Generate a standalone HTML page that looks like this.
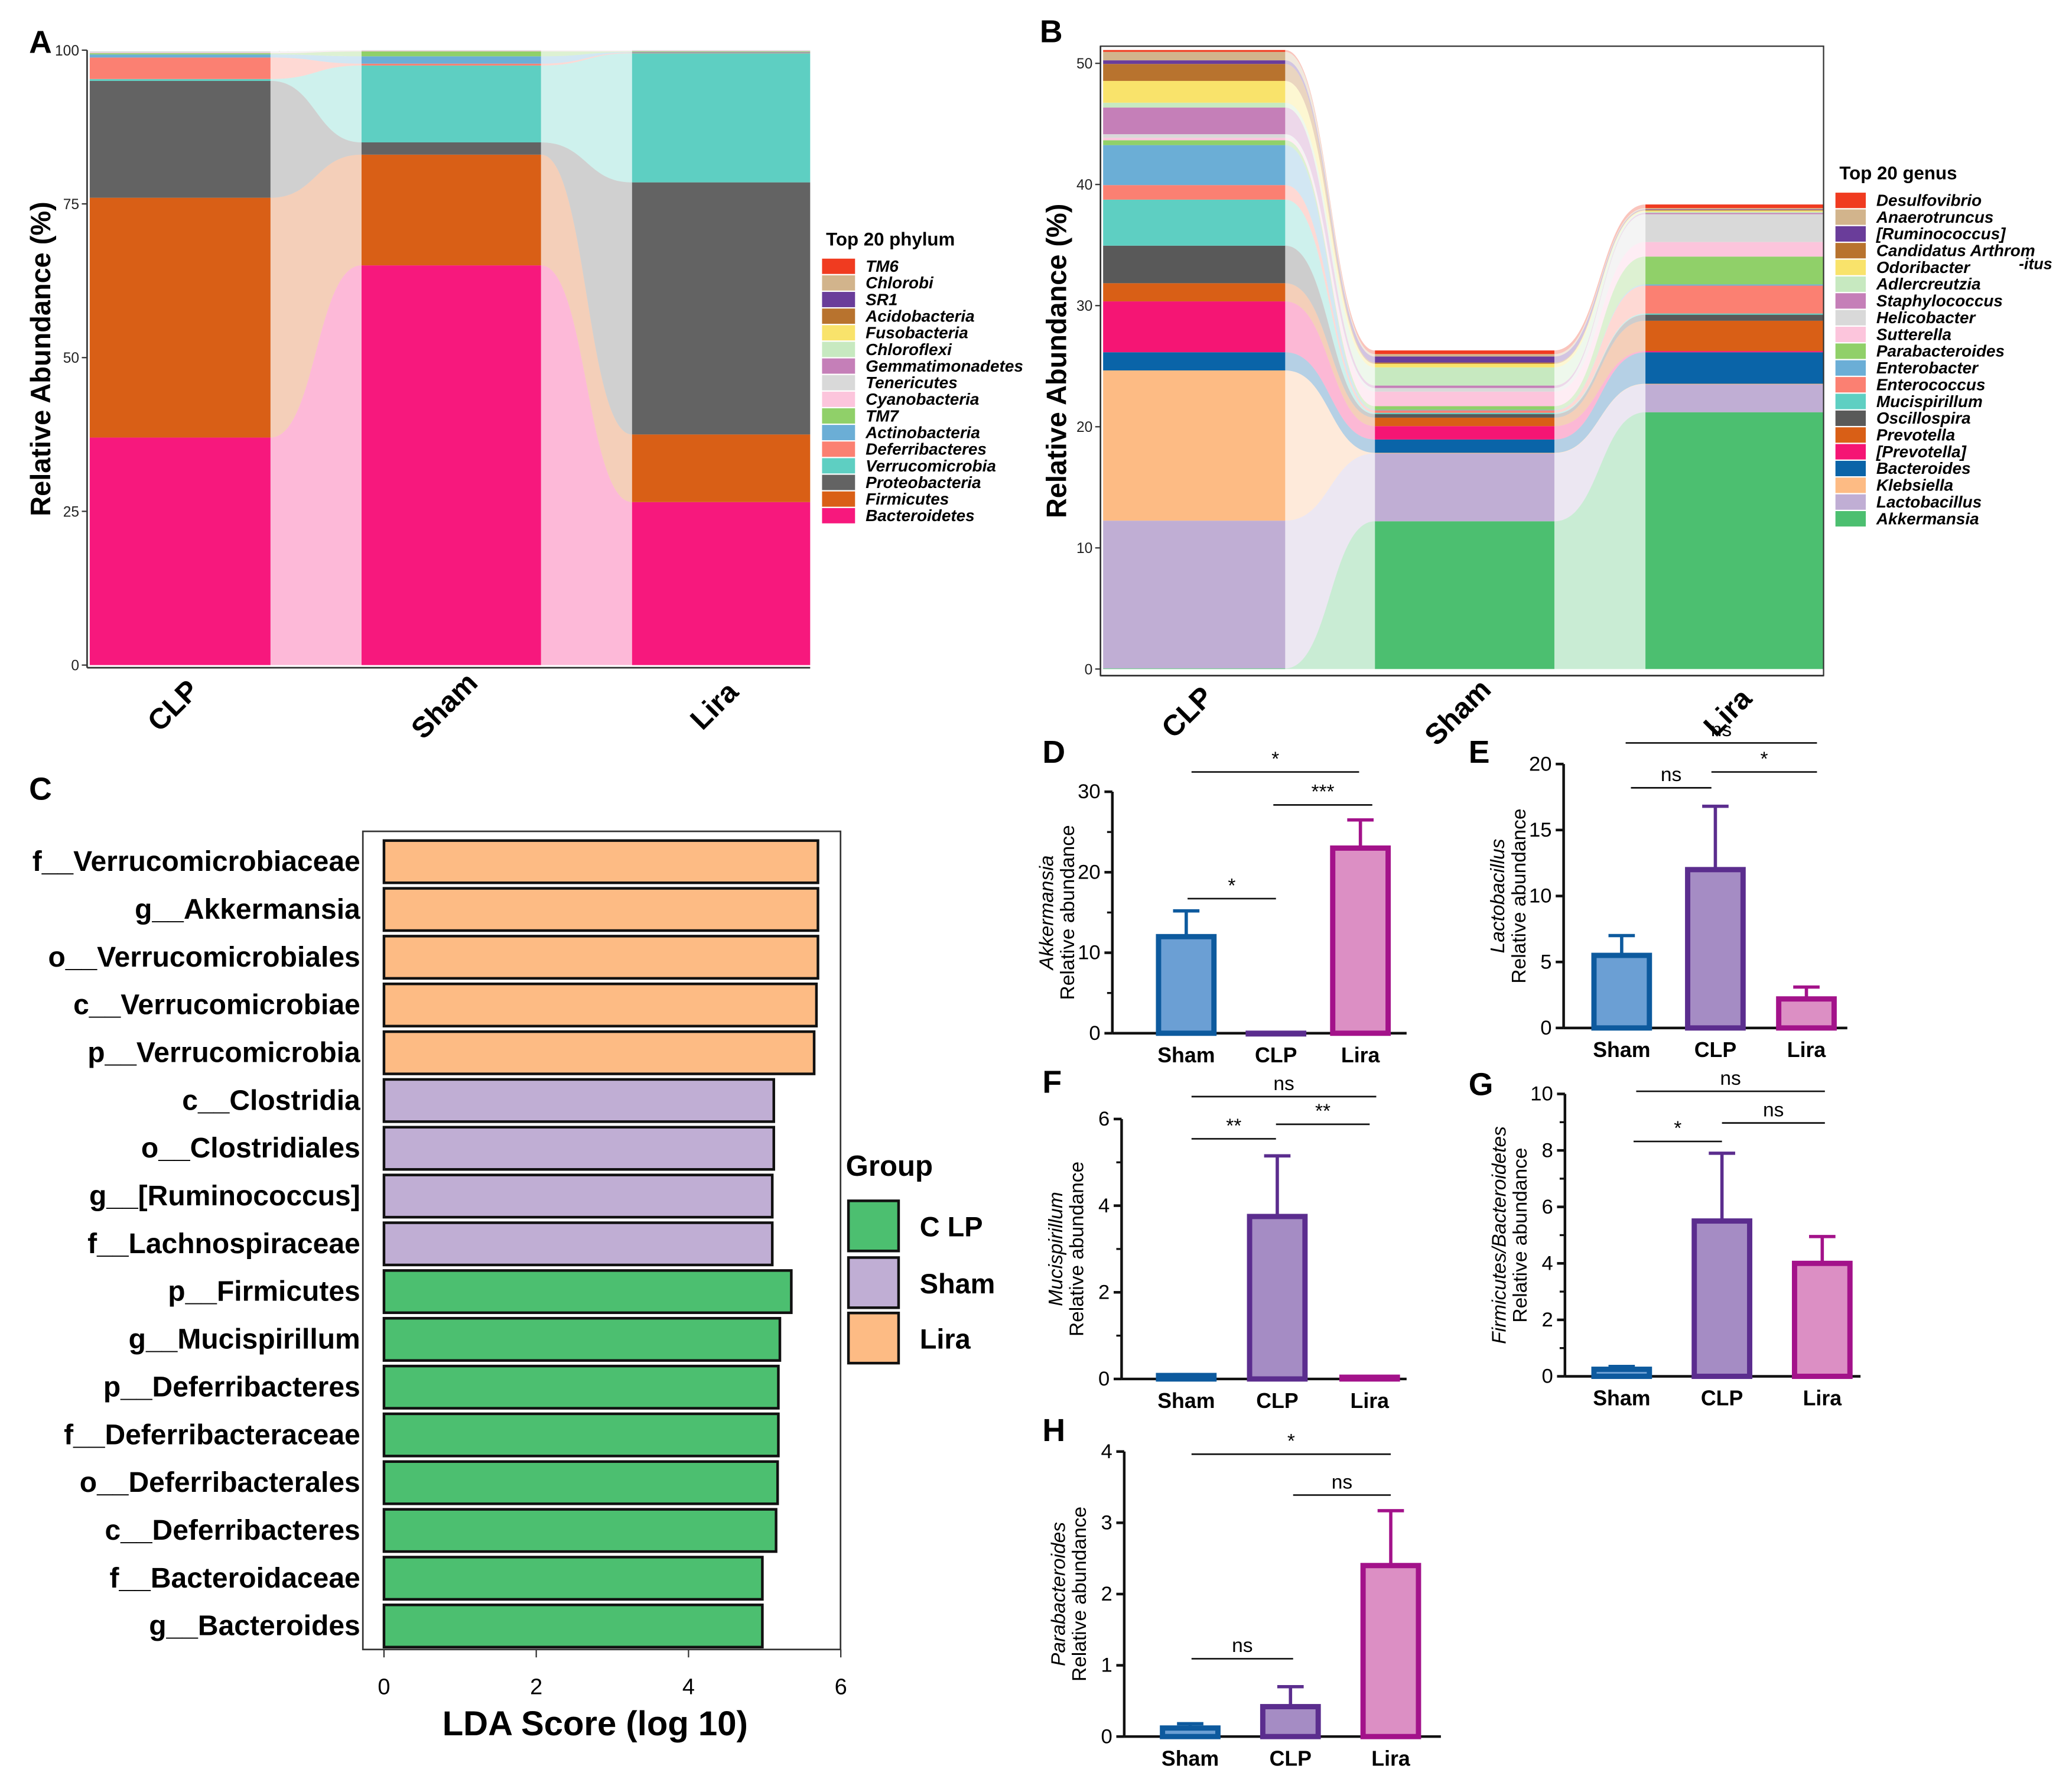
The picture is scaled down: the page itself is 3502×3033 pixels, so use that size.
<!DOCTYPE html>
<html><head><meta charset="utf-8">
<style>
html,body{margin:0;padding:0;background:#fff;}
svg{display:block;font-family:"Liberation Sans",Arial,sans-serif;}
</style></head>
<body>
<svg id="fig" width="3502" height="3033" viewBox="0 0 1568 1358" xmlns="http://www.w3.org/2000/svg">
<rect width="1568" height="1358" fill="#fff"/>
</svg>
<script>
// ---------- DATA ----------
const phylumNames=["Bacteroidetes","Firmicutes","Proteobacteria","Verrucomicrobia","Deferribacteres","Actinobacteria","TM7","Cyanobacteria","Tenericutes","Gemmatimonadetes","Chloroflexi","Fusobacteria","Acidobacteria","SR1","Chlorobi","TM6"];
const phylumColors=["#f7187d","#d95f16","#636363","#5ecfc2","#fb8072","#6baed6","#90d069","#fcc5dc","#d9d9d9","#c57fb8","#c7e9c0","#f9e36b","#b8732e","#6a3d9a","#d2b48c","#f03b20"];
const groupsAB=["CLP","Sham","Lira"];
const phylumCLP=[37,39,19,0.3,3.5,0.5,0.2,0.1,0.2,0,0,0,0,0,0,0];
const phylumSham=[65,18,2,12.5,0.3,1.2,0.8,0.1,0.1,0,0,0,0,0,0,0];
const phylumLira=[26.5,11,41,21,0.1,0.1,0.1,0.1,0.1,0,0,0,0,0,0,0];

const genusNames=["Akkermansia","Lactobacillus","Klebsiella","Bacteroides","[Prevotella]","Prevotella","Oscillospira","Mucispirillum","Enterococcus","Enterobacter","Parabacteroides","Sutterella","Helicobacter","Staphylococcus","Adlercreutzia","Odoribacter","Candidatus Arthrom","[Ruminococcus]","Anaerotruncus","Desulfovibrio"];
const genusColors=["#4cbf70","#c0aed4","#fdbb84","#0a64a8","#f51574","#d95f16","#595959","#5ecfc2","#fb8072","#6baed6","#90d069","#fcc5dc","#d9d9d9","#c57fb8","#c7e9c0","#f9e36b","#b8732e","#6a3d9a","#d2b48c","#f03b20"];
const genusCLP=[0.05,12.2,12.4,1.5,4.2,1.5,3.1,3.8,1.2,3.3,0.4,0.2,0.3,2.2,0.4,1.8,1.4,0.3,0.7,0.15];
const genusSham=[12.2,5.6,0.05,1.1,1.1,0.7,0.3,0.1,0.2,0.05,0.3,1.2,0.3,0.2,1.5,0.3,0.1,0.5,0.2,0.3];
const genusLira=[21.2,2.3,0.05,2.6,0.1,2.5,0.5,0.1,2.3,0.1,2.3,1.2,2.3,0.1,0.1,0.1,0.05,0.05,0.1,0.3];

const ldaLabels=["f__Verrucomicrobiaceae","g__Akkermansia","o__Verrucomicrobiales","c__Verrucomicrobiae","p__Verrucomicrobia","c__Clostridia","o__Clostridiales","g__[Ruminococcus]","f__Lachnospiraceae","p__Firmicutes","g__Mucispirillum","p__Deferribacteres","f__Deferribacteraceae","o__Deferribacterales","c__Deferribacteres","f__Bacteroidaceae","g__Bacteroides"];
const ldaScores=[5.7,5.7,5.7,5.68,5.65,5.12,5.12,5.1,5.1,5.35,5.2,5.18,5.18,5.17,5.15,4.97,4.97];
const ldaGroups=["Lira","Lira","Lira","Lira","Lira","Sham","Sham","Sham","Sham","CLP","CLP","CLP","CLP","CLP","CLP","CLP","CLP"];
const ldaTicks=[0,2,4,6];

const barCats=["Sham","CLP","Lira"];
const akkVals=[12,0,23], akkErr=[15.2,0,26.5];
const lacVals=[5.5,12,2.2], lacErr=[7,16.8,3.1];
const mucVals=[0.08,3.75,0.04], mucErr=[0.1,5.15,0.05];
const fbVals=[0.25,5.5,4.0], fbErr=[0.35,7.9,4.95];
const parVals=[0.12,0.42,2.4], parErr=[0.18,0.7,3.17];

// ---------- HELPERS ----------
const svg=document.getElementById('fig');
const NS="http://www.w3.org/2000/svg";
function el(tag,attrs,parent){const e=document.createElementNS(NS,tag);for(const k in attrs)e.setAttribute(k,attrs[k]);(parent||svg).appendChild(e);return e;}
function txt(x,y,s,attrs,parent){const t=el('text',Object.assign({x:x,y:y},attrs||{}),parent);t.textContent=s;return t;}
function cum(a){const r=[0];a.forEach(v=>r.push(r[r.length-1]+v));return r;}

// ---------- STACKED PANEL ----------
function stacked(cfg){
  const g=el('g',{});
  
  
  const y=v=>cfg.y0-v*cfg.sy;
  const cs=cfg.data.map(cum);
  for(let b=0;b<cfg.bars.length-1;b++){
    const x1=cfg.bars[b][1],x2=cfg.bars[b+1][0],xm=(x1+x2)/2;
    for(let i=0;i<cfg.colors.length;i++){
      const a0=y(cs[b][i]),a1=y(cs[b][i+1]),b0=y(cs[b+1][i]),b1=y(cs[b+1][i+1]);
      const p=el('path',{d:`M${x1},${a1} C${xm},${a1} ${xm},${b1} ${x2},${b1} L${x2},${b0} C${xm},${b0} ${xm},${a0} ${x1},${a0} Z`,fill:cfg.colors[i],'fill-opacity':0.3},g);
      
      
    }
  }
  cfg.bars.forEach((bx,b)=>{
    for(let i=0;i<cfg.colors.length;i++){
      const v=cfg.data[b][i]; if(v<=0)continue;
      const r=el('rect',{x:bx[0],y:y(cs[b][i+1]),width:bx[1]-bx[0],height:v*cfg.sy,fill:cfg.colors[i]},g);
      
      
    }
    const cx=(bx[0]+bx[1])/2;
    const lt=txt(cx,cfg.labY,cfg.groups[b],{'font-size':22,'font-weight':'bold','text-anchor':'middle',transform:`rotate(-45 ${cx} ${cfg.labY})`},g);
    
    
  });
  el('rect',{x:cfg.fx0,y:cfg.fy0,width:cfg.fx1-cfg.fx0,height:cfg.fy1-cfg.fy0,fill:'none',stroke:cfg.frame?'#333':'none','stroke-width':1},g);
  el('line',{x1:cfg.fx0,y1:cfg.fy0,x2:cfg.fx0,y2:cfg.fy1,stroke:'#333','stroke-width':1.2},g);
  el('line',{x1:cfg.fx0,y1:cfg.fy1,x2:cfg.fx1,y2:cfg.fy1,stroke:'#333','stroke-width':1.2},g);
  cfg.ticks.forEach(t=>{
    el('line',{x1:cfg.fx0-4,y1:y(t),x2:cfg.fx0,y2:y(t),stroke:'#333'},g);
    const tt=txt(cfg.fx0-6,y(t)+4,String(t),{'font-size':11,'text-anchor':'end',fill:'#222'},g);
    
    
  });
  const yt=txt(cfg.ytX,(cfg.fy0+cfg.fy1)/2,'Relative Abundance (%)',{'font-size':21,'font-weight':'bold','text-anchor':'middle',transform:`rotate(-90 ${cfg.ytX} ${(cfg.fy0+cfg.fy1)/2})`},g);
  
  
  const lg=el('g',{},g);
  
  
  const lti=txt(cfg.lx,cfg.ly-10,cfg.ltitle,{'font-size':14,'font-weight':'bold'},lg);
  
  
  const n=cfg.names.length;
  for(let k=0;k<n;k++){
    const i=n-1-k, yy=cfg.ly+k*cfg.lsp;
    const e=el('g',{},lg);
    
    
    el('rect',{x:cfg.lx-3,y:yy,width:cfg.lbw,height:cfg.lsp-1,fill:cfg.colors[i]},e);
    txt(cfg.lx+cfg.lbw+5,yy+10,cfg.names[i],{'font-size':12.5,'font-weight':'bold','font-style':'italic'},e);
  }
  if(cfg.extra)cfg.extra(lg);
  const pl=txt(cfg.pl[0],cfg.pl[1],cfg.pl[2],{'font-size':24,'font-weight':'bold'},g);
  
  
}

stacked({name:'panel-a',y0:504,sy:4.66,data:[phylumCLP,phylumSham,phylumLira],colors:phylumColors,names:phylumNames,groups:groupsAB,
  bars:[[68,205],[274,410],[479,614]],fx0:66,fx1:614,fy0:38,fy1:506,frame:false,ticks:[0,25,50,75,100],labY:540,ytX:38,
  lx:626,ly:196,lsp:12.6,lbw:25,ltitle:'Top 20 phylum',pl:[22,40,'A']});
stacked({name:'panel-b',y0:507,sy:9.18,data:[genusCLP,genusSham,genusLira],colors:genusColors,names:genusNames,groups:groupsAB,
  bars:[[836,974],[1042,1178],[1247,1382]],fx0:834,fx1:1382,fy0:35,fy1:512,frame:true,ticks:[0,10,20,30,40,50],labY:545,ytX:808,
  lx:1394,ly:146,lsp:12.7,lbw:23,ltitle:'Top 20 genus',pl:[788,32,'B'],
  extra:(lg)=>{const t=txt(1530,204,'-itus',{'font-size':12,'font-weight':'bold','font-style':'italic'},lg);}});

// ---------- PANEL C ----------
(function(){
  const g=el('g',{});
  
  
  const x=v=>291+v*57.7;
  const grpColor={CLP:'#4cbf70',Sham:'#c0aed4',Lira:'#fdbb84'};
  el('rect',{x:275,y:630,width:362,height:620,fill:'none',stroke:'#333','stroke-width':1.2},g);
  ldaScores.forEach((v,i)=>{
    const cy=653+i*36.2;
    const r=el('rect',{x:x(0),y:cy-16,width:x(v)-x(0),height:32,fill:grpColor[ldaGroups[i]],stroke:'#111','stroke-width':2},g);
    
    
    const t=txt(273,cy+7,ldaLabels[i],{'font-size':21.5,'font-weight':'bold','text-anchor':'end'},g);
    
    
  });
  ldaTicks.forEach(t=>{
    el('line',{x1:x(t),y1:1250,x2:x(t),y2:1256,stroke:'#333'},g);
    const tt=txt(x(t),1284,String(t),{'font-size':17,'text-anchor':'middle'},g);
    
    
  });
  const xt=txt(451,1315,'LDA Score (log 10)',{'font-size':26,'font-weight':'bold','text-anchor':'middle'},g);
  
  
  const lg=el('g',{},g);
  
  
  txt(641,891,'Group',{'font-size':22,'font-weight':'bold'},lg);
  [['C LP','CLP',910],['Sham','Sham',953],['Lira','Lira',995]].forEach(d=>{
    const e=el('g',{},lg);
    
    
    el('rect',{x:643,y:d[2],width:38,height:38,fill:grpColor[d[1]],stroke:'#111','stroke-width':2},e);
    txt(697,d[2]+27,d[0],{'font-size':21,'font-weight':'bold'},e);
  });
  const pl=txt(22,606,'C',{'font-size':24,'font-weight':'bold'});
  
  
})();

// ---------- BAR PANELS D-H ----------
const fills=['#6b9fd4','#a58cc4','#dc8fc4'], strokes=['#0d5a9e','#5b2d8e','#a3128a'];
function barPanel(c){
  const g=el('g',{});
  
  
  const y=v=>c.y0-(v/c.max)*(c.y0-c.ytop);
  el('line',{x1:c.ax,y1:c.ytop,x2:c.ax,y2:c.y0,stroke:'#111','stroke-width':2},g);
  el('line',{x1:c.ax,y1:c.y0,x2:c.xend,y2:c.y0,stroke:'#111','stroke-width':2},g);
  c.ticks.forEach(t=>{
    el('line',{x1:c.ax-6,y1:y(t),x2:c.ax,y2:y(t),stroke:'#111','stroke-width':2},g);
    const tt=txt(c.ax-9,y(t)+5,String(t),{'font-size':15.5,'text-anchor':'end'},g);
    
    
  });
  if(c.minor)c.minor.forEach(t=>el('line',{x1:c.ax-4,y1:y(t),x2:c.ax,y2:y(t),stroke:'#111','stroke-width':1.5},g));
  barCats.forEach((cat,i)=>{
    const cx=c.cx[i],w=42;
    el('line',{x1:cx,y1:y(c.vals[i]),x2:cx,y2:y(c.err[i]),stroke:strokes[i],'stroke-width':2.5},g);
    el('line',{x1:cx-10,y1:y(c.err[i]),x2:cx+10,y2:y(c.err[i]),stroke:strokes[i],'stroke-width':2.5},g);
    const r=el('rect',{x:cx-w/2,y:y(c.vals[i]),width:w,height:Math.max(0.5,y(0)-y(c.vals[i])),fill:fills[i],stroke:strokes[i],'stroke-width':4},g);
    
    
    const lt=txt(cx,c.y0+22,cat,{'font-size':16,'font-weight':'bold','text-anchor':'middle'},g);
    
    
  });
  c.sig.forEach(s=>{
    el('line',{x1:s[0],y1:s[2],x2:s[1],y2:s[2],stroke:'#111','stroke-width':1.2},g);
    const t=txt((s[0]+s[1])/2,s[2]-5,s[3],{'font-size':15,'text-anchor':'middle'},g);
    
    
  });
  const ym=(c.ytop+c.y0)/2;
  const t1=txt(c.ax-45,ym,c.genus,{'font-size':15,'font-style':'italic','text-anchor':'middle',transform:`rotate(-90 ${c.ax-45} ${ym})`},g);
  
  
  const t2=txt(c.ax-29,ym,'Relative abundance',{'font-size':15,'text-anchor':'middle',transform:`rotate(-90 ${c.ax-29} ${ym})`},g);
  
  
  const pl=txt(c.pl[0],c.pl[1],c.pl[2],{'font-size':24,'font-weight':'bold'},g);
  
  
}
barPanel({name:'panel-d',ax:843,xend:1066,y0:783,ytop:600,max:30,ticks:[0,10,20,30],minor:[5,15,25],cx:[899,967,1031],vals:akkVals,err:akkErr,
  sig:[[903,1030,585,'*'],[965,1040,610,'***'],[900,967,681,'*']],genus:'Akkermansia',pl:[790,578,'D']});
barPanel({name:'panel-e',ax:1185,xend:1400,y0:779,ytop:579,max:20,ticks:[0,5,10,15,20],cx:[1229,1300,1369],vals:lacVals,err:lacErr,
  sig:[[1232,1377,563,'ns'],[1236,1297,597,'ns'],[1297,1377,585,'*']],genus:'Lactobacillus',pl:[1113,578,'E']});
barPanel({name:'panel-f',ax:850,xend:1066,y0:1045,ytop:848,max:6,ticks:[0,2,4,6],minor:[1,3,5],cx:[899,968,1038],vals:mucVals,err:mucErr,
  sig:[[903,1043,831,'ns'],[903,967,863,'**'],[967,1038,852,'**']],genus:'Mucispirillum',pl:[790,828,'F']});
barPanel({name:'panel-g',ax:1186,xend:1410,y0:1043,ytop:829,max:10,ticks:[0,2,4,6,8,10],minor:[1,3,5,7,9],cx:[1229,1305,1381],vals:fbVals,err:fbErr,
  sig:[[1240,1383,827,'ns'],[1238,1305,865,'*'],[1305,1383,851,'ns']],genus:'Firmicutes/Bacteroidetes',pl:[1113,830,'G']});
barPanel({name:'panel-h',ax:852,xend:1092,y0:1316,ytop:1100,max:4,ticks:[0,1,2,3,4],cx:[902,978,1054],vals:parVals,err:parErr,
  sig:[[903,1054,1102,'*'],[980,1054,1133,'ns'],[903,980,1257,'ns']],genus:'Parabacteroides',pl:[790,1092,'H']});
</script>
</body></html>
